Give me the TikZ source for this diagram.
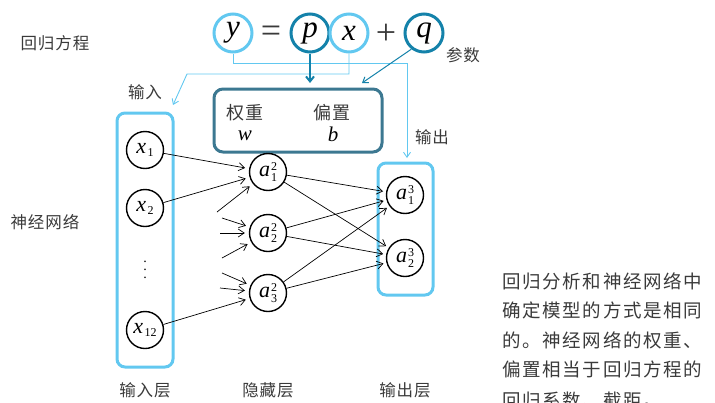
\documentclass[tikz,border=0pt]{standalone}
\usepackage{fontspec}
\usetikzlibrary{arrows.meta}
\newfontfamily\cjk[LetterSpace=6]{Noto Sans CJK SC}
\newfontfamily\cjkp[LetterSpace=9]{Noto Sans CJK SC}
\newfontfamily\tms{Liberation Serif}
\definecolor{lb}{HTML}{62C8F0}
\definecolor{db}{HTML}{1482AA}
\definecolor{bx}{HTML}{3C7891}
\definecolor{tx}{HTML}{3A3A3A}
\newcommand{\xn}[1]{{\itshape x}\hspace{1.5pt}\raisebox{-3pt}{\fontsize{12}{12}\selectfont #1}}
\newcommand{\an}[2]{{\itshape a}\hspace{1pt}\raisebox{-4.5pt}{\fontsize{12}{12}\selectfont\vbox{\baselineskip=11pt\hbox{#1}\hbox{#2}}}}
\tikzset{
  eqc/.style={circle,draw=#1,line width=3pt,minimum size=38pt,inner sep=0pt,
    font=\tms\itshape\fontsize{31}{36}\selectfont},
  eqs/.style={font=\tms\fontsize{36}{40}\selectfont,text=tx,inner sep=0pt},
  neuron/.style={circle,draw=black,line width=1.4pt,minimum size=37pt,inner sep=0pt,
    font=\tms\fontsize{22}{24}\selectfont},
  layerbox/.style={draw=lb,line width=3pt,rounded corners=8pt},
  wbox/.style={draw=bx,line width=3pt,rounded corners=9pt,minimum width=168pt,minimum height=63pt},
  lbline/.style={draw=lb,line width=0.9pt},
  arr/.style={-{Straight Barb[length=6pt,width=8pt]},line width=0.7pt,shorten >=4pt},
  lab/.style={font=\cjk\fontsize{16.5}{18}\selectfont,text=tx,inner sep=0pt},
  para/.style={font=\cjkp\fontsize{18.5}{20}\selectfont,text=tx,inner sep=0pt,anchor=west},
}
\begin{document}
\begin{tikzpicture}[x=1pt,y=-1pt]
\useasboundingbox (0,0) rectangle (715,402);
% equation
\node[eqc=lb] (y) at (233,33) {y};
\node[eqs] (eq) at (271,34) {=};
\node[eqc=db] (p) at (310,33) {p};
\node[eqc=lb] (x) at (349,33) {x};
\node[eqs] (pl) at (386,34) {+};
\node[eqc=db] (q) at (424,33) {q};
\node[lab] (cs) at (463,55) {参数};
\node[lab] (hg) at (55,43) {回归方程};
\node[lab] (sj) at (45,222) {神经网络};
% weight box
\node[wbox] (wb) at (298,120.5) {};
\node[lab,font=\cjk\fontsize{18}{20}\selectfont] (qz) at (245,113) {权重};
\node[lab,font=\cjk\fontsize{18}{20}\selectfont] (pz) at (332,113) {偏置};
\node[font=\tms\itshape\fontsize{21}{24}\selectfont] (w) at (245,136) {w};
\node[font=\tms\itshape\fontsize{21}{24}\selectfont] (b) at (333,134) {b};
% connectors from equation
\coordinate (outarrow) at (407,158);
\coordinate (inarrow) at (173,105);
\coordinate (parrow) at (310,83);
\coordinate (qarrow) at (362,83);
\draw[lbline,-{Straight Barb[length=5pt,width=7pt]}] (y.south) -- ++(0,10) -| (outarrow);
\draw[lbline,-{Straight Barb[length=5pt,width=7pt]}] (x.south) |- (187,74) -- (inarrow);
\draw[db,line width=2pt,-{Straight Barb[length=5pt,width=8pt]}] (p.south) -- (parrow);
\draw[db,line width=1pt,-{Straight Barb[length=5pt,width=7pt]}] (q.232) -- (qarrow);
\node[lab] (sr) at (145,92) {输入};
\node[lab] (sc) at (432,137) {输出};
% layer boxes
\draw[layerbox] (117,113) rectangle (173,367);
\draw[layerbox] (378,163) rectangle (433,295);
% neurons
\node[neuron] (x1) at (145,150) {\xn{1}};
\node[neuron] (x2) at (145,208) {\xn{2}};
\node[font=\tms\fontsize{14}{8}\selectfont,inner sep=0pt] (dots) at (145,270)
  {\vbox{\baselineskip=8pt\hbox{.}\hbox{.}\hbox{.}}};
\node[neuron] (x12) at (145,330) {\xn{12}};
\node[neuron] (h1) at (268,172) {\an{2}{1}};
\node[neuron] (h2) at (268,233) {\an{2}{2}};
\node[neuron] (h3) at (268,293) {\an{2}{3}};
\node[neuron] (o1) at (405,195) {\an{3}{1}};
\node[neuron] (o2) at (405,258) {\an{3}{2}};
% stubs
\coordinate (s1) at (217,212);
\coordinate (s2) at (222,218);
\coordinate (s3) at (220,233);
\coordinate (s4) at (222,258);
\coordinate (s5) at (222,273);
\coordinate (s6) at (220,288);
\draw[arr] (x1) -- (h1);
\draw[arr] (x2) -- (h1);
\draw[arr] (s1) -- (h1);
\draw[arr] (s2) -- (h2);
\draw[arr] (s3) -- (h2);
\draw[arr] (s4) -- (h2);
\draw[arr] (s5) -- (h3);
\draw[arr] (s6) -- (h3);
\draw[arr] (x12) -- (h3);
\foreach \h in {h1,h2,h3}{\foreach \o in {o1,o2}{\draw[arr,shorten >=3pt] (\h) -- (\o);}}
% layer labels
\node[lab] (l1) at (145,390) {输入层};
\node[lab] (l2) at (268,390) {隐藏层};
\node[lab] (l3) at (405,390) {输出层};
% paragraph
\node[para] (t1) at (502,281) {回归分析和神经网络中};
\node[para] (t2) at (502,310.5) {确定模型的方式是相同};
\node[para] (t3) at (502,340) {的。神经网络的权重、};
\node[para] (t4) at (502,369.5) {偏置相当于回归方程的};
\node[para] (t5) at (502,400) {回归系数、截距。};
\end{tikzpicture}
\end{document}
